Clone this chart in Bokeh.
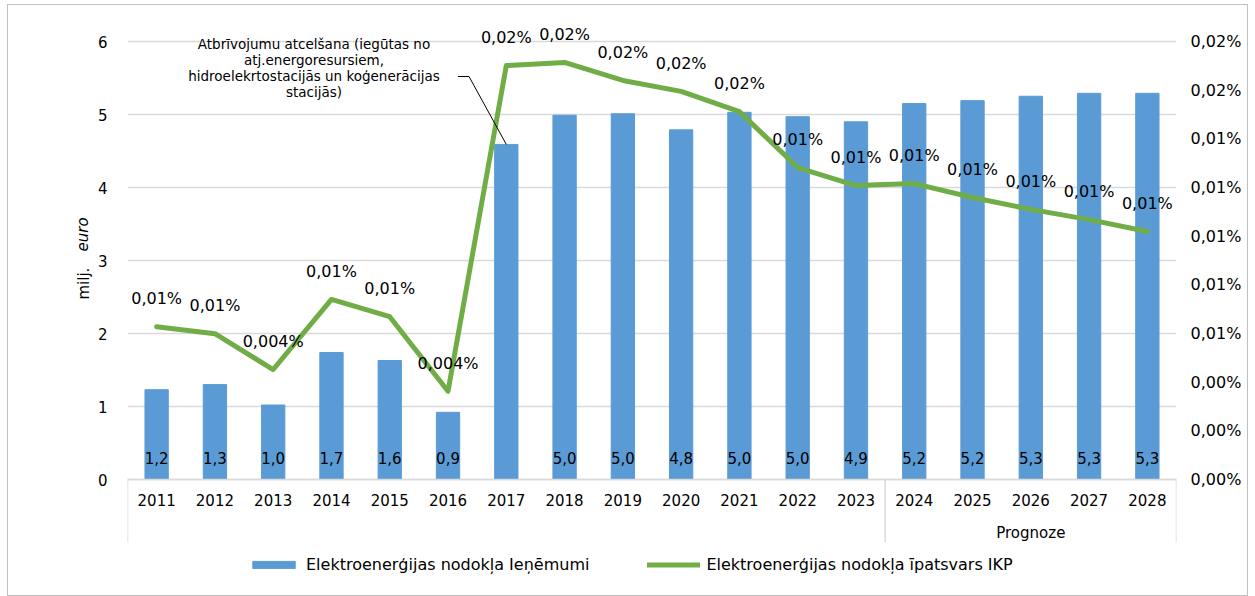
import math
from bokeh.plotting import figure
from bokeh.models import (Range1d, LinearAxis, FixedTicker, CustomJSTickFormatter,
                          ColumnDataSource, LabelSet, Label, Legend, LegendItem, FactorRange,
                          Title)
from bokeh.core.properties import value
from bokeh.embed import file_html
from bokeh.resources import INLINE

# ---------------- data ----------------
years = [str(y) for y in range(2011, 2029)]
revenue = [1.23, 1.30, 1.02, 1.74, 1.63, 0.92, 4.59, 4.99, 5.01, 4.79, 5.03, 4.97,
           4.90, 5.15, 5.19, 5.25, 5.29, 5.29]
revenue_labels = ["1,2", "1,3", "1,0", "1,7", "1,6", "0,9", "", "5,0", "5,0", "4,8",
                  "5,0", "5,0", "4,9", "5,2", "5,2", "5,3", "5,3", "5,3"]
share_gdp = [0.00628, 0.00599, 0.00452, 0.00740, 0.00669, 0.00363, 0.01701, 0.01714,
             0.01640, 0.01595, 0.01512, 0.01282, 0.01208, 0.01216, 0.01159, 0.01110,
             0.01068, 0.01019]
share_labels = ["0,01%", "0,01%", "0,004%", "0,01%", "0,01%", "0,004%", "0,02%", "0,02%",
                "0,02%", "0,02%", "0,02%", "0,01%", "0,01%", "0,01%", "0,01%", "0,01%",
                "0,01%", "0,01%"]
left_ticks = [0, 1, 2, 3, 4, 5, 6]
right_ticks = [0.000, 0.002, 0.004, 0.006, 0.008, 0.010, 0.012, 0.014, 0.016, 0.018]
right_tick_labels = ["0,00%", "0,00%", "0,00%", "0,01%", "0,01%", "0,01%", "0,01%",
                     "0,01%", "0,02%", "0,02%"]
forecast_label = "Prognoze"
forecast_start = "2024"
annotation_lines = ["Atbrīvojumu atcelšana (iegūtas no", "atj.energoresursiem,",
                    "hidroelekrtostacijās un koģenerācijas", "stacijās)"]
annotation_year = "2017"
bar_name = "Elektroenerģijas nodokļa Ieņēmumi"
line_name = "Elektroenerģijas nodokļa īpatsvars IKP"
y_axis_text = ["milj.", "euro"]

# ---------------- layout constants ----------------
FONT = "DejaVu Sans"
W, H = 1241, 592
ORIGIN_Y = 6                     # page y of the canvas top
ML, MR, MT, MB = 119, 73, 8, 4
FRAME_H = H - MT - MB
FRAME_BOTTOM = ORIGIN_Y + MT + FRAME_H
ZERO_Y = 480                     # page y of the value 0
LEFT_MAX = 6
RIGHT_MAX = 0.018
PX_PER_UNIT = 73.0
Y_TOP = (ZERO_Y - ORIGIN_Y - MT) / PX_PER_UNIT
Y_BOT = -(FRAME_BOTTOM - ZERO_Y) / PX_PER_UNIT
R = RIGHT_MAX / LEFT_MAX
BAR_COLOR = "#5B9BD5"
LINE_COLOR = "#70AD47"
GRID = "#D9D9D9"
TXT = "#000000"

src = ColumnDataSource(dict(year=years, revenue=revenue, rl=revenue_labels,
                            share=share_gdp, sl=share_labels))

p = figure(width=W, height=H, x_range=FactorRange(factors=years),
           y_range=Range1d(Y_BOT, Y_TOP), output_backend="svg", toolbar_location=None,
           min_border_left=ML, min_border_right=MR, min_border_top=MT, min_border_bottom=MB)
p.extra_y_ranges = {"share": Range1d(Y_BOT * R, Y_TOP * R)}
p.outline_line_color = None
p.background_fill_color = "white"
p.border_fill_color = "white"
p.styles = {"border": "1px solid #BFBFBF", "box-sizing": "border-box",
            "margin": "4px 0px 0px 7px"}

bars = p.vbar(x="year", top="revenue", width=0.40, source=src, fill_color=BAR_COLOR,
              line_color=BAR_COLOR)
line = p.line(x="year", y="share", source=src, y_range_name="share", line_color=LINE_COLOR,
              line_width=5, line_join="round", line_cap="round")

# axes
p.xgrid.grid_line_color = None
p.ygrid.ticker = FixedTicker(ticks=left_ticks)
p.ygrid.grid_line_color = GRID
p.ygrid.grid_line_width = 1.5

ya = p.yaxis[0]
ya.ticker = FixedTicker(ticks=left_ticks)
ya.axis_line_color = None
ya.major_tick_line_color = None
ya.minor_tick_line_color = None
ya.major_label_standoff = 14
ya.major_label_text_font = FONT
ya.major_label_text_font_size = "15px"
ya.major_label_text_color = TXT

ra = LinearAxis(y_range_name="share", ticker=FixedTicker(ticks=right_ticks),
                formatter=CustomJSTickFormatter(args=dict(labels=right_tick_labels),
                                                code="return labels[index];"))
ra.axis_line_color = None
ra.major_tick_line_color = None
ra.minor_tick_line_color = None
ra.major_label_standoff = 8
ra.major_label_text_font = FONT
ra.major_label_text_font_size = "16px"
ra.major_label_text_color = TXT
p.add_layout(ra, "right")

xa = p.xaxis[0]
xa.fixed_location = 0
xa.axis_line_color = GRID
xa.axis_line_width = 1.5
xa.major_tick_line_color = None
xa.minor_tick_line_color = None
xa.major_label_standoff = 8
xa.major_label_text_font = FONT
xa.major_label_text_font_size = "15px"
xa.major_label_text_color = TXT

# y-axis title: two pieces ("euro" in italics) in the left panel
t_a = Title(text=y_axis_text[0], align="left", offset=FRAME_BOTTOM - 300,
            text_font=FONT, text_font_size="15px", text_font_style="normal",
            text_color=TXT, standoff=3)
t_b = Title(text=y_axis_text[1], align="left", offset=FRAME_BOTTOM - 252,
            text_font=FONT, text_font_size="15px", text_font_style="italic",
            text_color=TXT, standoff=-40)
p.add_layout(t_a, "left")
p.add_layout(t_b, "left")

# category separators & group label
SEP_PX = 63
sep_y = -SEP_PX / PX_PER_UNIT
fi = years.index(forecast_start)
sep_x = [0, fi, len(years)]
p.segment(x0=sep_x, y0=[0] * 3, x1=sep_x, y1=[sep_y] * 3, line_color=GRID, line_width=1.5)
p.add_layout(Label(x=(fi + len(years)) / 2, y=0, y_offset=-53, text=forecast_label,
                   text_align="center", text_baseline="middle", text_font=FONT,
                   text_font_size="15px", text_color=TXT))

# data labels
p.add_layout(LabelSet(x="year", y=0, text="rl", source=src, y_offset=22,
                      text_align="center", text_baseline="middle", text_font=value(FONT),
                      text_font_size="15px", text_color=TXT))
p.add_layout(LabelSet(x="year", y="share", y_range_name="share", text="sl", source=src,
                      y_offset=28, text_align="center", text_baseline="middle",
                      text_font=value(FONT), text_font_size="16px", text_color=TXT))

# callout annotation
ai = years.index(annotation_year)
ANN_X = 3.2
ANN_Y = (ZERO_Y - 44) / PX_PER_UNIT
for k, t in enumerate(annotation_lines):
    p.add_layout(Label(x=ANN_X, y=ANN_Y, y_offset=-16.3 * k, text=t, text_align="center",
                       text_baseline="middle", text_font=FONT, text_font_size="13.5px",
                       text_color=TXT))
lead_y = (ZERO_Y - 77) / PX_PER_UNIT
p.line(x=[ai - 0.33, ai - 0.14, ai + 0.5], y=[lead_y, lead_y, revenue[ai]],
       line_color="black", line_width=1)

# legend (inside the extended frame, below the axis)
LEG_CENTER_Y = 565
legend = Legend(items=[LegendItem(label=bar_name, renderers=[bars]),
                       LegendItem(label=line_name, renderers=[line])],
                orientation="horizontal",
                location=(247 - 8 - ML, FRAME_BOTTOM - LEG_CENTER_Y - 9.5),
                padding=0, margin=0,
                border_line_color=None, background_fill_alpha=0, glyph_width=53,
                glyph_height=9, label_height=9, label_standoff=6, spacing=58,
                label_text_font=FONT, label_text_font_size="16px", label_text_color=TXT)
p.add_layout(legend, "center")

open("out.html", "w").write(file_html(p, INLINE))
